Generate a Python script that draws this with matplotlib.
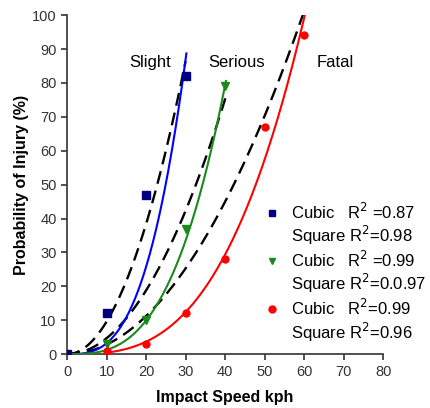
import numpy as np
import matplotlib
matplotlib.use("Agg")
import matplotlib.pyplot as plt
from matplotlib.lines import Line2D

plt.rcParams['font.family'] = ['Liberation Sans', 'DejaVu Sans']

# measured points (impact speed kph, probability %)
slight_x = [0, 10, 20, 30]
slight_y = [0, 12, 47, 82]
serious_x = [10, 20, 30, 40]
serious_y = [3, 10, 37, 79]
fatal_x = [10, 20, 30, 40, 50, 60]
fatal_y = [1, 3, 12, 28, 67, 94]

# fitted coefficients: cubic y=a*x^3, square y=b*x^2
cubic_coef = {'slight': 0.00322, 'serious': 0.00124, 'fatal': 0.000459}
square_coef = {'slight': 0.096, 'serious': 0.047, 'fatal': 0.0281}
fit_range = {'slight': (0, 30.2), 'serious': (0, 40.2), 'fatal': (10, 61)}
square_range = {'slight': (0, 30), 'serious': (0, 40.5), 'fatal': (0, 59.7)}

legend_labels = ['Cubic   R$^2$ =0.87', 'Square R$^2$=0.98',
                 'Cubic   R$^2$ =0.99', 'Square R$^2$=0.0.97',
                 'Cubic   R$^2$=0.99', 'Square R$^2$=0.96']

fig = plt.figure(figsize=(4.3, 4.08), dpi=100)
ax = fig.add_axes([0.156, 0.132, 0.735, 0.831])

colors = {'slight': '#0000ff', 'serious': '#1a8a1a', 'fatal': '#ff0000'}
for key in ['slight', 'serious', 'fatal']:
    xs = np.linspace(*square_range[key], 200)
    ax.plot(xs, square_coef[key] * xs**2, color='black', lw=1.7,
            dashes=(5.5, 3), zorder=2)
    xc = np.linspace(*fit_range[key], 200)
    ax.plot(xc, cubic_coef[key] * xc**3, color=colors[key], lw=1.5, zorder=3)

ax.plot(slight_x, slight_y, 's', color='#000080', ms=5.5, ls='none', zorder=4)
ax.plot(serious_x, serious_y, 'v', color='#1a8a1a', ms=6, ls='none', zorder=4)
ax.plot(fatal_x, fatal_y, 'o', color='#ff0000', ms=5, ls='none', zorder=4)

ax.text(21, 86, 'Slight', fontsize=12, ha='center', va='center')
ax.text(43, 86, 'Serious', fontsize=12, ha='center', va='center')
ax.text(67.8, 86, 'Fatal', fontsize=12, ha='center', va='center')

empty = Line2D([], [], ls='none', marker=None)
handles = [Line2D([], [], ls='none', marker='s', color='#000080', ms=5),
           empty,
           Line2D([], [], ls='none', marker='v', color='#1a8a1a', ms=5),
           empty,
           Line2D([], [], ls='none', marker='o', color='#ff0000', ms=5),
           empty]
ax.legend(handles, legend_labels, loc='upper left', bbox_to_anchor=(0.623, 0.45),
          frameon=False, fontsize=12, handlelength=1.0, handletextpad=0.6,
          labelspacing=0.15, borderaxespad=0, borderpad=0)

ax.set_xlim(0, 80)
ax.set_ylim(0, 100)
ax.set_xticks(range(0, 81, 10))
ax.set_yticks(range(0, 101, 10))
ax.spines['top'].set_visible(False)
ax.spines['right'].set_visible(False)
for s in ['left', 'bottom']:
    ax.spines[s].set_color('#333333')
    ax.spines[s].set_linewidth(1.2)
ax.tick_params(direction='out', length=4, width=1.2, color='#333333',
               labelsize=10.5, labelcolor='#333333')
ax.set_xlabel('Impact Speed kph', fontsize=11.5, fontweight='bold', labelpad=8)
ax.set_ylabel('Probability of Injury (%)', fontsize=11.5, fontweight='bold',
              labelpad=2)

fig.savefig('out.png', dpi=100)
